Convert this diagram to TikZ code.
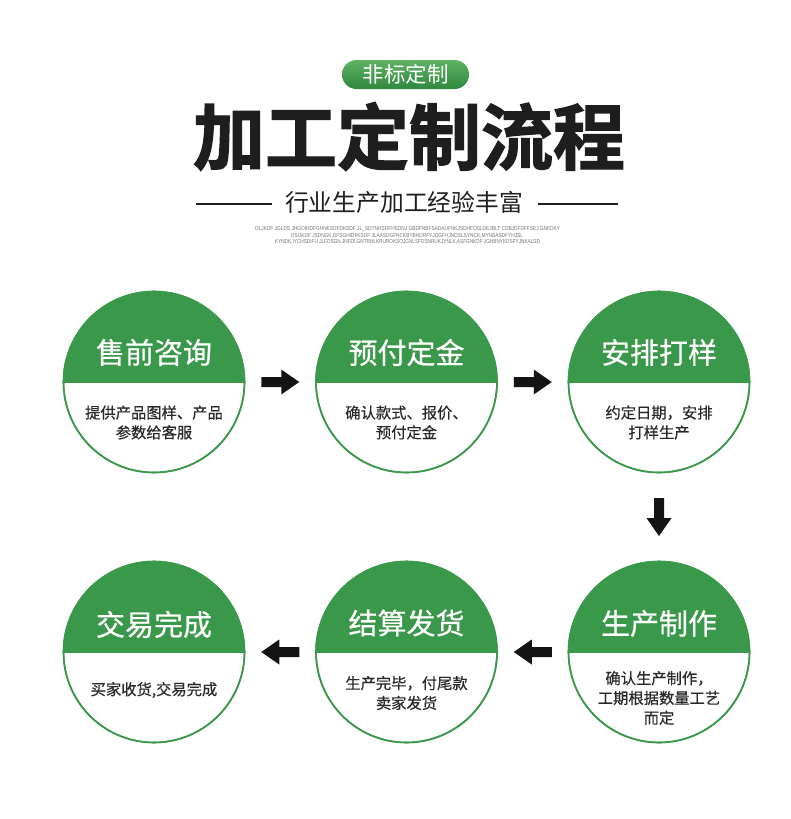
\documentclass[tikz,border=0pt]{standalone}
\usepackage{fontspec}
\usepackage{graphicx}
\usetikzlibrary{calc}
\newfontfamily\cjk{Noto Sans CJK SC}
\newfontfamily\cjkbody{Noto Sans CJK SC}[FakeBold=0.4]
\newfontfamily\cjkmid{Noto Sans CJK SC}[FakeBold=0.6]
\newfontfamily\cjkheavy{Noto Sans CJK SC Bold}[FakeBold=1.8]
\newfontfamily\latinsans{Liberation Sans}
\definecolor{procgreen}{RGB}{58,152,74}
\definecolor{pilltop}{RGB}{96,178,100}
\definecolor{pillbot}{RGB}{46,136,62}
\definecolor{bodytext}{RGB}{40,40,40}
\definecolor{titletext}{RGB}{30,30,30}
\definecolor{arrowfill}{RGB}{20,20,20}
\tikzset{
  stepcircle/.style={circle, draw=procgreen, line width=1.6pt, minimum size=181pt, inner sep=0pt},
  steptitle/.style={font=\cjkmid\fontsize{29}{29}\selectfont, text=white, inner sep=0pt, anchor=center},
  stepbody/.style={font=\cjkbody\fontsize{15.3}{19.8}\selectfont, text=bodytext, align=center, inner sep=0pt, anchor=center},
  tinytext/.style={font=\latinsans\fontsize{4.5}{5}\selectfont, text=black!55, inner sep=0pt},
  pics/blockarrow/.style={code={
    \fill[arrowfill] (-19,-5) -- (1,-5) -- (1,-12.5) -- (19,0) -- (1,12.5) -- (1,5) -- (-19,5) -- cycle;
  }}
}
\newcommand{\procstep}[4]{%
  \node[stepcircle] (#1) at (#2) {};
  \begin{scope}
    \clip (#1.center) circle (90.5);
    \fill[procgreen] ([xshift=-95pt,yshift=95pt]#1.center) rectangle ([xshift=95pt,yshift=-1pt]#1.center);
  \end{scope}
  \node[stepcircle, fill=none] at (#1.center) {};
  \node[steptitle] (#1-title) at ([yshift=#4]#1.center) {#3};
}
\begin{document}
\begin{tikzpicture}[x=1pt,y=-1pt]
\path[use as bounding box, fill=white] (0,0) rectangle (790,819);

% header pill
\node[rounded corners=14.5pt, minimum width=127pt, minimum height=29pt, inner sep=0pt,
      top color=pilltop, bottom color=pillbot, draw=none,
      font=\cjk\fontsize{21.5}{21.5}\selectfont, text=white] (pill) at (405.5,74.5) {非标定制};

% main title
\node[font=\cjkheavy\fontsize{72}{72}\selectfont, text=titletext, inner sep=0pt] (title) at (409,136.5) {加工定制流程};

% subtitle with rules
\node[font=\cjk\fontsize{23.8}{23.8}\selectfont, text=titletext, inner sep=0pt] (subtitle) at (404,202.5) {行业生产加工经验丰富};
\coordinate (ruleLa) at (196,204);
\coordinate (ruleLb) at (272,204);
\coordinate (ruleRa) at (538,204);
\coordinate (ruleRb) at (618,204);
\draw[titletext, line width=1.2pt] (ruleLa) -- (ruleLb);
\draw[titletext, line width=1.2pt] (ruleRa) -- (ruleRb);

% tiny text
\node[tinytext] (tiny1) at (407.5,229) {\resizebox{305pt}{4pt}{OLJKDF JGLDS JHGOIHDFGHNKSDFDKSDF JL\_SDYNHSDFHSDNJ GBDFNBFSADAUFNKJSDHFOSLDEJBLT CDBJDFDFFSEJ.GNFDKY}};
\node[tinytext] (tiny2) at (407,235.5) {\resizebox{232pt}{4pt}{OSUKDF JSDNGK,DFSGHIDFKSDF JLAASDGFNCKBYBHDRFYJOGFHJNDSLSYNCK,MYNBASDFYHJSL}};
\node[tinytext] (tiny3) at (407.5,242) {\resizebox{265pt}{4pt}{KYNDK,IYCHSDIFU JLFDSGN.JNFDLGNTRHLKRUROKSOJGNLSFDSNRUKJYNLK,ASFGNKDF JGHBNYKDSFYJNKALSD}};

% steps
\procstep{s1}{154,382}{售前咨询}{29.5pt}
\procstep{s2}{406.5,382}{预付定金}{29.5pt}
\procstep{s3}{659,382}{安排打样}{29.5pt}
\procstep{s4}{154,652}{交易完成}{27.5pt}
\procstep{s5}{406.5,652}{结算发货}{29pt}
\procstep{s6}{659,652}{生产制作}{28.5pt}

\node[stepbody] (s1-body) at ([yshift=-40.5pt]s1.center) {提供产品图样、产品\\参数给客服};
\node[stepbody] (s2-body) at ([yshift=-40.5pt]s2.center) {确认款式、报价、\\预付定金};
\node[stepbody] (s3-body) at ([yshift=-40.5pt]s3.center) {约定日期，安排\\打样生产};
\node[stepbody] (s4-body) at ([yshift=-38pt]s4.center) {买家收货,交易完成};
\node[stepbody] (s5-body) at ([yshift=-41pt]s5.center) {生产完毕，付尾款\\卖家发货};
\node[stepbody] (s6-body) at ([yshift=-46pt]s6.center) {确认生产制作，\\工期根据数量工艺\\而定};

% arrows between steps
\coordinate (a12) at ($(s1.east)!0.5!(s2.west)$);
\path (a12) pic {blockarrow};
\coordinate (a23) at ($(s2.east)!0.5!(s3.west)$);
\path (a23) pic {blockarrow};
\coordinate (a36) at ($(s3.south)!0.5!(s6.north)$);
\path (a36) pic[rotate=-90] {blockarrow};
\coordinate (a65) at ($(s6.west)!0.5!(s5.east)$);
\path (a65) pic[rotate=180] {blockarrow};
\coordinate (a54) at ($(s5.west)!0.5!(s4.east)$);
\path (a54) pic[rotate=180] {blockarrow};
\end{tikzpicture}
\end{document}
